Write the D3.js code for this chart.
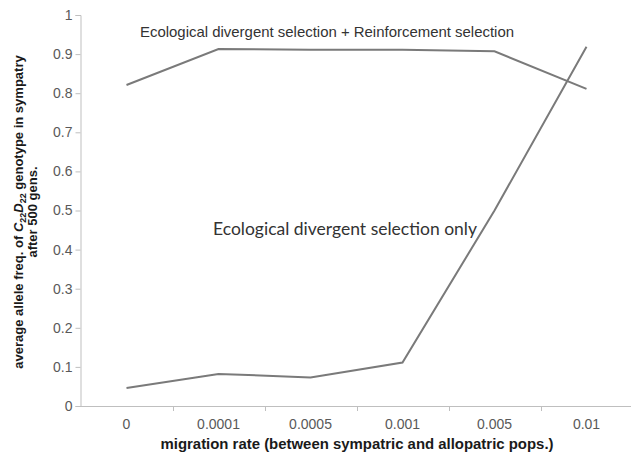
<!DOCTYPE html>
<html>
<head>
<meta charset="utf-8">
<script src="https://cdn.jsdelivr.net/npm/d3@7"></script>
<style>
  body { margin: 0; background: #fff; }
  svg { display: block; }
  text { font-family: "Liberation Sans", Arial, sans-serif; }
</style>
</head>
<body>
<div id="chart"></div>
<script>
var width = 631, height = 454;

// categories on the x axis (migration rate)
var rates = ["0", "0.0001", "0.0005", "0.001", "0.005", "0.01"];
// ecological divergent selection + reinforcement selection
var withReinf = [0.821, 0.913, 0.911, 0.911, 0.907, 0.811];
// ecological divergent selection only
var ecoOnly = [0.046, 0.082, 0.073, 0.111, 0.5, 0.919];
var yTicks = [0, 0.1, 0.2, 0.3, 0.4, 0.5, 0.6, 0.7, 0.8, 0.9, 1];

var margin = {left: 80.5, right: -1.5, top: 15, bottom: 48};

var svg = d3.select("#chart").append("svg")
  .attr("width", width)
  .attr("height", height);

var x = d3.scaleBand()
  .domain(rates)
  .range([margin.left, width - margin.right]);

var y = d3.scaleLinear()
  .domain([0, 1])
  .range([height - margin.bottom, margin.top]);

var axisColor = "#bfbfbf", labelColor = "#595959";

// y axis
var yAxis = svg.append("g")
  .attr("transform", "translate(" + margin.left + ",0)")
  .call(d3.axisLeft(y).tickValues(yTicks).tickSize(5).tickPadding(3)
    .tickFormat(function(d) { return d3.format("")(+d.toFixed(1)); }));
yAxis.select(".domain").attr("stroke", axisColor);
yAxis.selectAll(".tick line").attr("stroke", axisColor);
yAxis.selectAll(".tick text").attr("fill", labelColor)
  .style("font-size", "14px").style("font-family", "Liberation Sans, Arial, sans-serif");

// x axis, ticks sit between categories like the spreadsheet
var xAxis = svg.append("g")
  .attr("transform", "translate(0," + y(0) + ")")
  .call(d3.axisBottom(x).tickSize(0).tickPadding(13));
xAxis.select(".domain").attr("stroke", axisColor);
xAxis.selectAll(".tick text").attr("fill", labelColor)
  .style("font-size", "14px").style("font-family", "Liberation Sans, Arial, sans-serif");

svg.append("g").selectAll("line")
  .data(rates.slice(1).concat(["end"]))
  .enter().append("line")
  .attr("x1", function(d, i) { return Math.round(x(rates[i]) + x.bandwidth()) + 0.5; })
  .attr("x2", function(d, i) { return Math.round(x(rates[i]) + x.bandwidth()) + 0.5; })
  .attr("y1", y(0))
  .attr("y2", y(0) + 5)
  .attr("stroke", axisColor);

// data lines
var line = d3.line()
  .x(function(d, i) { return x(rates[i]) + x.bandwidth() / 2; })
  .y(function(d) { return y(d); });

[withReinf, ecoOnly].forEach(function(series) {
  svg.append("path")
    .datum(series)
    .attr("d", line)
    .attr("fill", "none")
    .attr("stroke", "#7a7a7a")
    .attr("stroke-width", 2);
});

// labels on the lines
svg.append("text")
  .attr("x", 140)
  .attr("y", 37)
  .attr("fill", "#333")
  .style("font-size", "15px")
  .attr("textLength", 374)
  .attr("lengthAdjust", "spacingAndGlyphs")
  .text("Ecological divergent selection + Reinforcement selection");

svg.append("text")
  .attr("x", 213)
  .attr("y", 235)
  .attr("fill", "#333")
  .style("font-family", "Lato, sans-serif")
  .style("font-size", "17.5px")
  .attr("textLength", 264)
  .attr("lengthAdjust", "spacingAndGlyphs")
  .text("Ecological divergent selection only");

// axis titles
svg.append("text")
  .attr("x", 357)
  .attr("y", 449)
  .attr("text-anchor", "middle")
  .attr("fill", "#1a1a1a")
  .style("font-size", "15px")
  .style("font-weight", "bold")
  .attr("textLength", 393)
  .attr("lengthAdjust", "spacingAndGlyphs")
  .text("migration rate (between sympatric and allopatric pops.)");

var yTitle = svg.append("text")
  .attr("transform", "translate(23,212) rotate(-90)")
  .attr("text-anchor", "middle")
  .attr("fill", "#1a1a1a")
  .style("font-size", "13px")
  .style("font-weight", "bold");
yTitle.append("tspan").text("average allele freq. of ");
yTitle.append("tspan").style("font-style", "italic").text("C");
yTitle.append("tspan").attr("dy", 3).style("font-size", "9px").text("22");
yTitle.append("tspan").attr("dy", -3).style("font-style", "italic").text("D");
yTitle.append("tspan").attr("dy", 3).style("font-size", "9px").text("22");
yTitle.append("tspan").attr("dy", -3).text(" genotype in sympatry");

svg.append("text")
  .attr("transform", "translate(37,212) rotate(-90)")
  .attr("text-anchor", "middle")
  .attr("fill", "#1a1a1a")
  .style("font-size", "13px")
  .style("font-weight", "bold")
  .text("after 500 gens.");
</script>
</body>
</html>
